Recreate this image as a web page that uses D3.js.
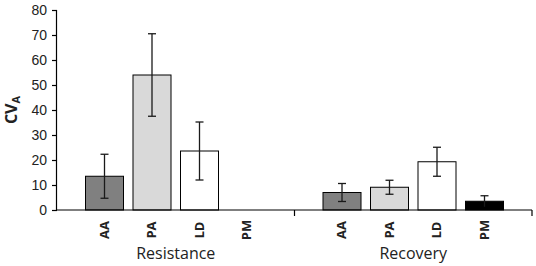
<!DOCTYPE html>
<html lang="en">
<head>
<meta charset="UTF-8">
<title>CV_A Resistance / Recovery</title>
<script src="https://d3js.org/d3.v7.min.js"></script>
<style>
    body { margin: 0; background: #fff; }
    svg { display: block; font-family: "Open Sans", "Liberation Sans", sans-serif; }
    .tick text { font-size: 14px; fill: #222; }
</style>
</head>
<body>
<div id="chart"></div>
<script>
    // data
    const groups = ["Resistance", "Recovery"];
    const categories = ["AA", "PA", "LD", "PM"];
    const resistanceValues = [13.5, 54, 23.6, null];
    const resistanceErrors = [8.8, 16.5, 11.6, null];
    const recoveryValues = [7, 9.1, 19.3, 3.5];
    const recoveryErrors = [3.6, 2.8, 5.8, 2.2];
    const barColors = ["#808080", "#d9d9d9", "#ffffff", "#000000"];
    const yTicks = [0, 10, 20, 30, 40, 50, 60, 70, 80];

    const width = 536, height = 266;
    const mLeft = 57, mRight = 532, mTop = 10, mBottom = 210;

    const svg = d3.select("#chart").append("svg")
        .attr("width", width)
        .attr("height", height);

    // 10 slots along the axis, bars sit on slot 1..4 and 6..9
    const x = d3.scaleLinear().domain([0, 10]).range([mLeft, mRight]);
    const y = d3.scaleLinear().domain([0, 80]).range([mBottom, mTop]);
    const barW = 38;

    const rows = [];
    categories.forEach((c, i) => {
        rows.push({ group: 0, cat: c, i, pos: i + 1, v: resistanceValues[i], e: resistanceErrors[i] });
        rows.push({ group: 1, cat: c, i, pos: i + 6, v: recoveryValues[i], e: recoveryErrors[i] });
    });

    // y axis
    const yAxis = svg.append("g")
        .attr("transform", `translate(${mLeft},0)`)
        .call(d3.axisLeft(y).tickValues(yTicks).tickSize(5).tickPadding(5));
    yAxis.select(".domain").attr("stroke", "#000").attr("stroke-width", 1.2).attr("d", `M-0.5,${y(80)}V${mBottom}`);
    yAxis.selectAll(".tick line").attr("stroke", "#000").attr("stroke-width", 1.2);

    svg.append("text")
        .attr("transform", `translate(17,${(mTop + mBottom) / 2}) rotate(-90)`)
        .attr("text-anchor", "middle")
        .attr("font-size", 16)
        .attr("font-weight", "bold")
        .attr("fill", "#222")
        .html('CV<tspan font-size="11" dy="3">A</tspan>');

    // bars
    const bars = rows.filter(d => d.v != null);
    svg.selectAll("rect.bar")
        .data(bars)
        .enter().append("rect")
        .attr("class", "bar")
        .attr("x", d => x(d.pos) - barW / 2)
        .attr("y", d => y(d.v))
        .attr("width", barW)
        .attr("height", d => y(0) - y(d.v))
        .attr("fill", d => barColors[d.i])
        .attr("stroke", "#000")
        .attr("stroke-width", 1);

    // error bars
    const err = svg.selectAll("g.err")
        .data(bars.filter(d => d.e != null))
        .enter().append("g")
        .attr("class", "err")
        .attr("stroke", "#1a1a1a")
        .attr("stroke-width", 1.3);
    err.append("line")
        .attr("x1", d => x(d.pos)).attr("x2", d => x(d.pos))
        .attr("y1", d => y(d.v + d.e)).attr("y2", d => y(Math.max(0, d.v - d.e)));
    err.append("line")
        .attr("x1", d => x(d.pos) - 4).attr("x2", d => x(d.pos) + 4)
        .attr("y1", d => y(d.v + d.e)).attr("y2", d => y(d.v + d.e));
    err.append("line")
        .attr("x1", d => x(d.pos) - 4).attr("x2", d => x(d.pos) + 4)
        .attr("y1", d => y(d.v - d.e)).attr("y2", d => y(d.v - d.e))
        .attr("stroke", d => d.i === 3 ? "none" : "#1a1a1a");

    // x axis
    svg.append("line")
        .attr("x1", mLeft).attr("x2", mRight)
        .attr("y1", mBottom).attr("y2", mBottom)
        .attr("stroke", "#000").attr("stroke-width", 1.2);
    [5, 10].forEach(p => {
        svg.append("line")
            .attr("x1", x(p)).attr("x2", x(p))
            .attr("y1", mBottom).attr("y2", mBottom + 6)
            .attr("stroke", "#000").attr("stroke-width", 1.2);
    });

    svg.selectAll("text.cat")
        .data(rows)
        .enter().append("text")
        .attr("class", "cat")
        .attr("transform", d => `translate(${x(d.pos) + 4},230) rotate(-90)`)
        .attr("text-anchor", "middle")
        .attr("font-size", 13)
        .attr("font-weight", "bold")
        .attr("fill", "#222")
        .text(d => d.cat);

    svg.selectAll("text.group")
        .data(groups)
        .enter().append("text")
        .attr("class", "group")
        .attr("x", (d, i) => (x(i * 5) + x(i * 5 + 5)) / 2)
        .attr("y", 259)
        .attr("text-anchor", "middle")
        .attr("font-size", 16)
        .attr("fill", "#222")
        .text(d => d);
</script>
</body>
</html>
